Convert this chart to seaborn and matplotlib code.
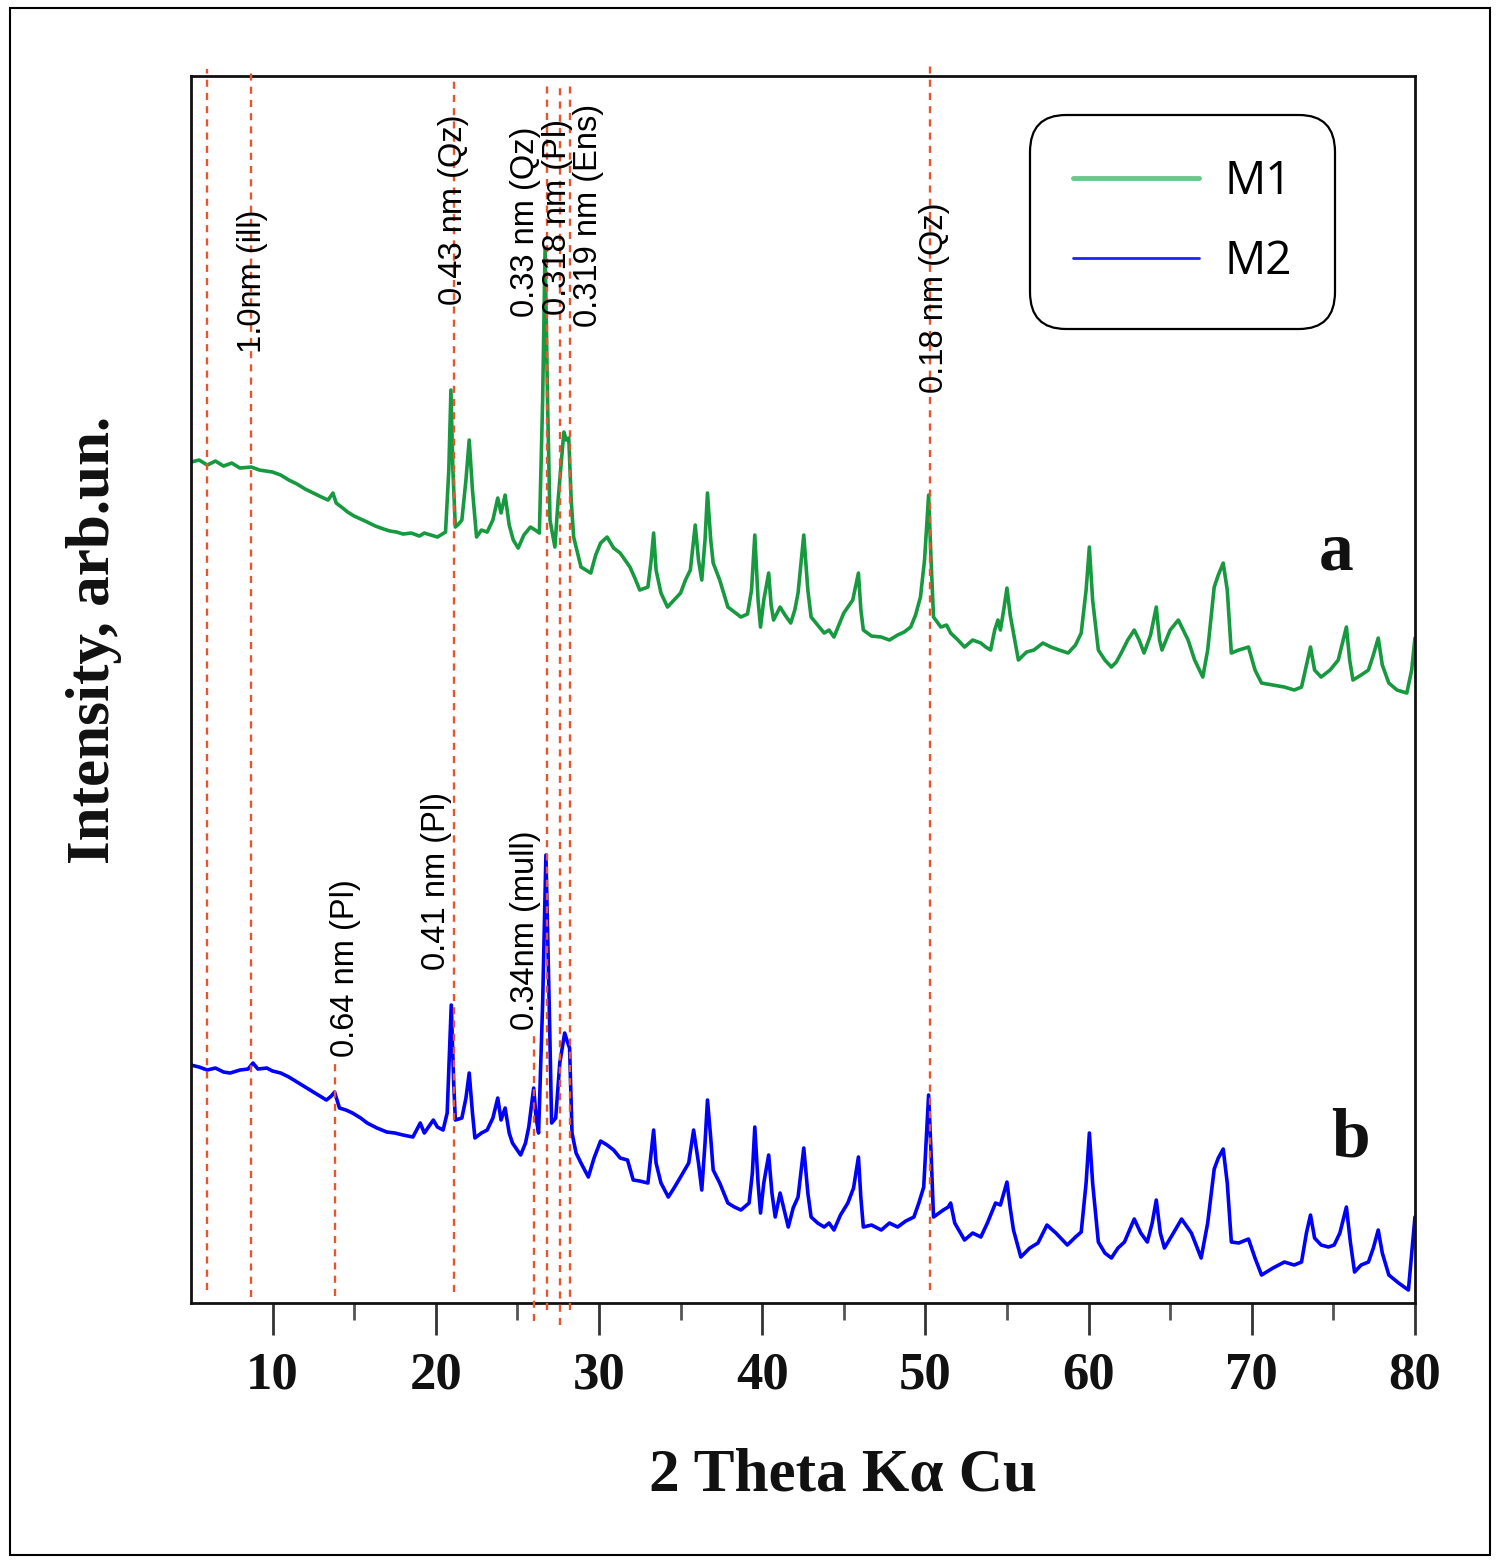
import numpy as np
import pandas as pd
import matplotlib
matplotlib.use("Agg")
import matplotlib.pyplot as plt
from matplotlib.lines import Line2D
from matplotlib.patches import Rectangle
import seaborn as sns

# XRD patterns, 2 theta (deg) vs intensity (arb. units)
m1_theta = [5.0, 5.5, 6.0, 6.5, 7.0, 7.5, 8.0, 8.7, 9.2, 10.0,
            10.5, 11.0, 11.5, 12.0, 12.5, 13.0, 13.4, 13.7, 13.9, 14.3,
            14.6, 15.0, 15.4, 15.8, 16.3, 16.8, 17.2, 17.6, 18.0, 18.5,
            19.0, 19.3, 19.7, 20.1, 20.4, 20.6, 20.8, 20.93, 21.05, 21.2,
            21.4, 21.6, 21.85, 22.05, 22.25, 22.5, 22.8, 23.15, 23.5, 23.8,
            24.0, 24.25, 24.5, 24.75, 25.05, 25.4, 25.8, 26.1, 26.35, 26.55,
            26.7, 26.85, 27.0, 27.3, 27.5, 27.65, 27.85, 28.0, 28.15, 28.3,
            28.45, 28.9, 29.2, 29.5, 29.8, 30.1, 30.5, 30.9, 31.3, 31.6,
            31.9, 32.2, 32.5, 33.0, 33.2, 33.35, 33.5, 33.8, 34.2, 34.6,
            35.0, 35.3, 35.6, 35.9, 36.1, 36.3, 36.5, 36.65, 36.85, 37.0,
            37.4, 37.9, 38.3, 38.7, 39.1, 39.35, 39.55, 39.75, 39.9, 40.1,
            40.4, 40.55, 40.7, 41.1, 41.4, 41.75, 42.0, 42.2, 42.55, 42.8,
            43.0, 43.4, 43.8, 44.1, 44.4, 44.7, 45.0, 45.3, 45.55, 45.9,
            46.05, 46.2, 46.7, 47.3, 47.8, 48.3, 48.7, 49.1, 49.4, 49.7,
            49.95, 50.2, 50.35, 50.5, 50.95, 51.3, 51.55, 52.0, 52.4, 52.9,
            53.4, 53.7, 54.0, 54.25, 54.45, 54.6, 54.8, 55.0, 55.2, 55.4,
            55.7, 56.2, 56.65, 57.2, 57.7, 58.2, 58.75, 59.2, 59.55, 59.85,
            60.05, 60.25, 60.6, 61.0, 61.4, 61.7, 62.0, 62.4, 62.8, 63.1,
            63.4, 63.8, 64.15, 64.35, 64.5, 65.0, 65.5, 65.8, 66.1, 66.5,
            67.0, 67.3, 67.7, 67.95, 68.25, 68.5, 68.75, 69.2, 69.8, 70.2,
            70.6, 71.3, 72.0, 72.6, 73.05, 73.35, 73.6, 73.85, 74.25, 74.8,
            75.3, 75.8, 76.0, 76.2, 76.7, 77.15, 77.45, 77.75, 78.0, 78.4,
            78.9, 79.5, 79.8, 80.0]
m1_int = [841, 843, 838, 842, 837, 840, 835, 836, 833, 831,
          828, 823, 819, 814, 810, 806, 803, 810, 800, 795,
          791, 787, 784, 781, 777, 774, 772, 771, 769, 770,
          767, 770, 768, 766, 769, 771, 833, 913, 833, 776,
          779, 783, 823, 863, 813, 766, 773, 771, 783, 805,
          790, 808, 778, 763, 755, 768, 776, 773, 770, 903,
          1055, 903, 783, 756, 803, 833, 871, 863, 865, 803,
          766, 736, 733, 730, 748, 760, 766, 755, 750, 743,
          736, 725, 713, 716, 743, 770, 733, 710, 696, 703,
          710, 723, 733, 778, 743, 723, 763, 810, 763, 740,
          723, 696, 691, 686, 689, 713, 768, 703, 676, 703,
          730, 698, 683, 696, 688, 680, 693, 710, 768, 713,
          686, 678, 670, 673, 666, 678, 690, 697, 703, 730,
          693, 673, 667, 666, 663, 668, 671, 676, 688, 706,
          743, 808, 743, 686, 676, 678, 670, 663, 656, 663,
          660, 656, 653, 673, 683, 673, 693, 715, 688, 670,
          643, 651, 653, 660, 656, 653, 650, 658, 670, 713,
          756, 703, 653, 643, 636, 641, 650, 663, 673, 663,
          650, 668, 696, 663, 653, 673, 683, 673, 663, 643,
          626, 653, 716, 728, 740, 713, 650, 653, 656, 633,
          620, 618, 616, 613, 616, 638, 656, 633, 626, 633,
          643, 676, 643, 623, 628, 633, 648, 665, 638, 620,
          613, 610, 633, 665]

m2_theta = [5.0, 5.5, 6.0, 6.5, 7.0, 7.4, 8.0, 8.5, 8.8, 9.1,
            9.65, 10.0, 10.5, 11.0, 11.5, 12.0, 12.5, 13.0, 13.3, 13.6,
            13.8, 14.1, 14.5, 14.9, 15.4, 15.8, 16.4, 17.0, 17.5, 18.0,
            18.6, 19.05, 19.3, 19.85, 20.1, 20.45, 20.7, 20.95, 21.1, 21.2,
            21.6, 21.85, 22.05, 22.25, 22.4, 22.8, 23.15, 23.5, 23.8, 24.0,
            24.25, 24.5, 24.7, 25.2, 25.5, 25.7, 26.0, 26.15, 26.3, 26.55,
            26.75, 26.95, 27.1, 27.35, 27.6, 27.9, 28.05, 28.2, 28.35, 28.6,
            28.9, 29.35, 29.7, 30.1, 30.5, 30.9, 31.3, 31.75, 32.1, 32.5,
            33.0, 33.2, 33.35, 33.5, 33.8, 34.25, 34.6, 35.0, 35.5, 35.8,
            36.1, 36.3, 36.5, 36.65, 36.85, 37.0, 37.4, 37.9, 38.3, 38.7,
            39.2, 39.4, 39.55, 39.75, 39.9, 40.1, 40.4, 40.6, 40.8, 41.1,
            41.6, 41.9, 42.2, 42.55, 42.8, 43.0, 43.4, 43.8, 44.1, 44.4,
            44.8, 45.25, 45.6, 45.9, 46.05, 46.2, 46.7, 47.3, 47.8, 48.3,
            48.8, 49.3, 49.6, 49.9, 50.2, 50.35, 50.5, 51.1, 51.4, 51.55,
            51.8, 52.4, 52.9, 53.4, 53.8, 54.3, 54.6, 55.0, 55.2, 55.4,
            55.85, 56.4, 56.9, 57.45, 58.0, 58.7, 59.2, 59.55, 59.85, 60.05,
            60.25, 60.6, 61.0, 61.4, 61.8, 62.2, 62.8, 63.2, 63.6, 63.9,
            64.15, 64.4, 64.65, 65.2, 65.7, 66.3, 66.9, 67.3, 67.7, 67.95,
            68.25, 68.5, 68.75, 69.2, 69.8, 70.2, 70.6, 71.3, 72.0, 72.6,
            73.05, 73.35, 73.6, 73.85, 74.25, 74.7, 75.05, 75.4, 75.8, 76.05,
            76.3, 76.7, 77.15, 77.45, 77.75, 78.0, 78.4, 79.0, 79.6, 79.8,
            80.0]
m2_int = [238, 236, 233, 235, 231, 230, 233, 234, 240, 234,
          235, 232, 230, 226, 221, 216, 211, 206, 203, 207,
          211, 195, 193, 190, 185, 180, 175, 171, 170, 168,
          166, 180, 170, 183, 176, 173, 190, 298, 220, 183,
          185, 205, 230, 190, 165, 170, 173, 185, 205, 183,
          195, 170, 160, 148, 160, 176, 215, 185, 170, 300,
          448, 300, 180, 185, 240, 270, 262, 255, 170, 150,
          140, 126, 145, 162, 158, 153, 145, 143, 123, 122,
          120, 150, 173, 140, 120, 106, 115, 126, 140, 173,
          140, 113, 160, 203, 165, 133, 120, 100, 96, 93,
          100, 130, 176, 120, 90, 120, 148, 110, 86, 110,
          76, 95, 106, 155, 110, 86, 80, 76, 80, 73,
          88, 100, 115, 146, 105, 76, 78, 73, 80, 76,
          82, 86, 100, 116, 208, 150, 86, 93, 96, 100,
          80, 63, 70, 66, 80, 100, 98, 121, 95, 73,
          46, 55, 60, 78, 70, 58, 66, 71, 120, 170,
          120, 61, 50, 45, 55, 61, 84, 70, 61, 80,
          103, 70, 55, 70, 84, 70, 45, 80, 134, 145,
          154, 120, 61, 60, 64, 45, 28, 35, 41, 38,
          41, 70, 88, 65, 58, 56, 58, 70, 96, 60,
          31, 38, 41, 55, 73, 50, 28, 20, 13, 50,
          86]

samples = ["M1", "M2"]

# reflections marked with dashed lines (2 theta)
ref_pos = [6.0, 8.7, 13.8, 21.1, 26.0, 26.8, 27.6, 28.2, 50.3]
ref_span = [(0.011, 1.006), (0.005, 1.005), (0.006, 0.196), (0.009, 1.0),
            (-0.015, 0.22), (-0.006, 0.995), (-0.018, 0.993), (-0.006, 0.993),
            (0.011, 1.008)]

peak_labels = ["1.0nm (ill)", "0.43 nm (Qz)", "0.33 nm (Qz)", "0.318 nm (Pl)",
               "0.319 nm (Ens)", "0.18 nm (Qz)", "0.64 nm (Pl)", "0.41 nm (Pl)",
               "0.34nm (mull)"]
label_x = [8.8, 21.1, 25.47, 27.43, 29.39, 50.59, 14.44, 20.07, 25.53]
label_y = [950, 998, 986, 988, 976, 910, 246, 333, 273]

xticks = [10, 20, 30, 40, 50, 60, 70, 80]
xminor = [15, 25, 35, 45, 55, 65, 75]

df = pd.concat([
    pd.DataFrame({"theta": m1_theta, "intensity": m1_int, "sample": "M1"}),
    pd.DataFrame({"theta": m2_theta, "intensity": m2_int, "sample": "M2"}),
])

sns.set_style("white")
plt.rcParams["text.color"] = "black"
plt.rcParams["xtick.color"] = "black"
plt.rcParams["xtick.labelcolor"] = "black"
serif = ["Liberation Serif", "DejaVu Serif"]
sans = ["Liberation Sans", "DejaVu Sans"]

fig = plt.figure(figsize=(15, 15.65), dpi=100)
ax = fig.add_axes([0.1273, 0.1674, 0.816, 0.784])

colors = {"M1": "#17993f", "M2": "#0000ff"}
sns.lineplot(data=df, x="theta", y="intensity", hue="sample", palette=colors,
             estimator=None, sort=False, lw=2.6, legend=False, ax=ax, zorder=2)

for pos, (lo, hi) in zip(ref_pos, ref_span):
    ax.axvline(pos, ymin=lo, ymax=hi, color="#e8542c", lw=1.7,
               ls=(0, (3, 2.6)), clip_on=False, zorder=3)

for x, y, txt in zip(label_x, label_y, peak_labels):
    ax.text(x, y, txt, rotation=90, ha="center", va="bottom",
            fontsize=23.5, family=sans, color="black", zorder=4)

ax.text(0.936, 0.612, "a", transform=ax.transAxes, ha="center", va="center",
        fontsize=50, fontweight="bold", family=serif, color="#111111")
ax.text(0.947, 0.133, "b", transform=ax.transAxes, ha="center", va="center",
        fontsize=50, fontweight="bold", family=serif, color="#111111")

ax.set_xlim(5, 80)
ax.set_ylim(0, 1227)
ax.set_xticks(xticks)
ax.set_xticks(xminor, minor=True)
ax.set_yticks([])
ax.set_xlabel(None)
ax.set_ylabel(None)
ax.tick_params(axis="x", which="both", bottom=True, top=False)
ax.tick_params(axis="x", which="major", direction="out", length=23, width=2,
               pad=12, labelsize=38, color="#333333")
ax.tick_params(axis="x", which="minor", direction="out", length=12, width=2,
               color="#555555")
for lab in ax.get_xticklabels():
    lab.set_family(serif)
    lab.set_fontweight("bold")
    lab.set_color("#111111")
for sp in ax.spines.values():
    sp.set_color("#111111")
    sp.set_linewidth(2)

handles = [Line2D([], [], color="#6cc68a", lw=3.5),
           Line2D([], [], color="#2020ff", lw=2)]
leg = ax.legend(handles, samples, loc="upper right", bbox_to_anchor=(0.935, 0.968),
                borderaxespad=0, frameon=True, fancybox=True, handlelength=2.75,
                handletextpad=0.55, labelspacing=0.75, borderpad=0.95,
                prop={"family": ["Open Sans", "DejaVu Sans"], "size": 33})
for t in leg.get_texts():
    t.set_color("black")
frame = leg.get_frame()
frame.set_boxstyle("round,pad=0,rounding_size=0.8")
frame.set_edgecolor("black")
frame.set_linewidth(1.6)
frame.set_alpha(1)

fig.text(0.063, 0.591, "Intensity, arb.un.", rotation=90, ha="center", va="center",
         fontsize=44, fontweight="bold", family=serif, color="#111111")
fig.text(0.562, 0.0575, "2 Theta K\u03b1 Cu", ha="center", va="center",
         fontsize=44, fontweight="bold", family=serif, color="#111111")

fig.patches.append(Rectangle((10 / 1500, 1 - 1555 / 1565), 1480 / 1500, 1547 / 1565,
                             transform=fig.transFigure, fill=False, lw=1.5,
                             ec="black"))

fig.savefig("out.png", dpi=100, facecolor="white")
